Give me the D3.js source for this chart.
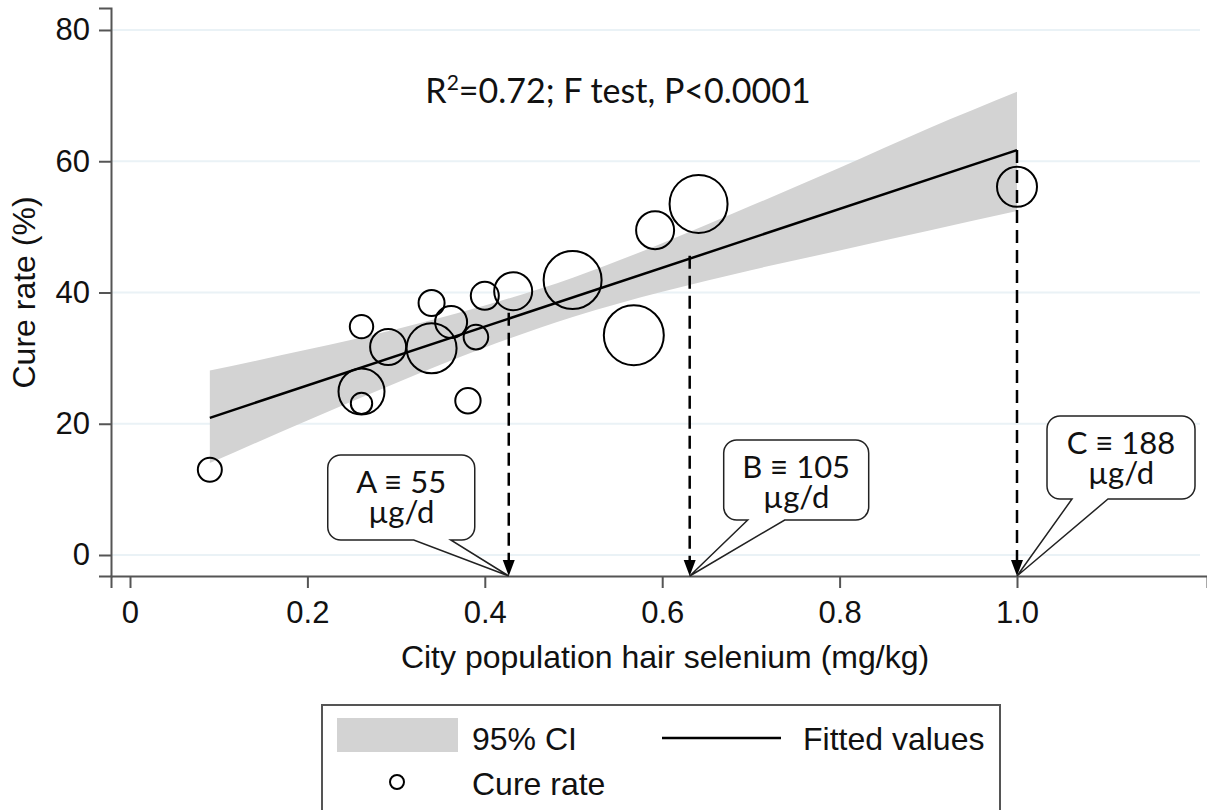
<!DOCTYPE html>
<html>
<head>
<meta charset="utf-8">
<script src="https://cdn.jsdelivr.net/npm/d3@7"></script>
<style>
  body { margin: 0; background: #fff; }
</style>
</head>
<body>
<div id="chart"></div>
<script>
// City data: hair selenium (mg/kg), cure rate (%), relative weight (bubble size)
const selenium = [0.09, 0.261, 0.261, 0.261, 0.291, 0.34, 0.34, 0.362, 0.39, 0.381, 0.40, 0.432, 0.499, 0.568, 0.592, 0.641, 1.0];
const cureRate = [13.0, 34.8, 24.9, 23.1, 31.7, 38.4, 31.5, 35.5, 33.2, 23.5, 39.5, 40.2, 41.9, 33.5, 49.5, 53.5, 56.1];
const cityWeight = [144, 137, 529, 114, 324, 169, 625, 256, 151, 161, 196, 361, 841, 900, 361, 841, 400];

// 95% CI band
const ciX = [0.09, 0.2, 0.3, 0.4, 0.5, 0.6, 0.7, 0.8, 0.9, 1.0];
const ciLow = [14.0, 20.5, 26.2, 31.6, 36.3, 40.1, 43.4, 46.4, 49.4, 52.4];
const ciHigh = [28.1, 31.3, 34.4, 38.0, 42.3, 47.5, 53.2, 59.0, 65.0, 70.6];

// fitted line
const fitX = [0.09, 1.0];
const fitY = [20.9, 61.7];

const xTicks = [0, 0.2, 0.4, 0.6, 0.8, 1.0];
const yTicks = [0, 20, 40, 60, 80];

// marked intakes
const markX = [0.427, 0.631, 1.0];
const markFit = [36.9, 45.6, 61.7];
const markLabel = ["A \u2261 55", "B \u2261 105", "C \u2261 188"];
const markUnit = "\u00b5g/d";

// callout box layout (pixels, relative to arrow tip)
const callout = [
  { dx: -181, top: 455, w: 147, h: 85, t1: -95, t2: -58 },
  { dx: 34, top: 440, w: 145, h: 80, t1: 58, t2: 95 },
  { dx: 30, top: 416, w: 148, h: 83, t1: 55, t2: 91 }
];

const width = 1207, height = 810;
const axisFont = "'Liberation Sans', Arial, sans-serif";
const noteFont = "Lato, 'Open Sans', sans-serif";

const x = d3.scaleLinear().domain([-0.02142, 1.2142]).range([111, 1207]);
const y = d3.scaleLinear().domain([-3.2, 83.35]).range([576, 8]);
const r = d3.scaleSqrt().domain([0, 900]).range([0, 30]);

const svg = d3.select("#chart")
  .append("svg")
  .attr("width", width)
  .attr("height", height);

// gridlines
svg.append("g")
  .selectAll("line")
  .data(yTicks)
  .enter()
  .append("line")
  .attr("x1", x.range()[0])
  .attr("x2", 1200)
  .attr("y1", d => y(d))
  .attr("y2", d => y(d))
  .attr("stroke", "#eaf2f6")
  .attr("stroke-width", 2);

// CI band
const ci = ciX.map((d, i) => ({ x: d, lo: ciLow[i], hi: ciHigh[i] }));
svg.append("path")
  .datum(ci)
  .attr("fill", "#d3d3d3")
  .attr("d", d3.area()
    .x(d => x(d.x))
    .y0(d => y(d.lo))
    .y1(d => y(d.hi))
    .curve(d3.curveMonotoneX));

// fitted line
svg.append("path")
  .datum(fitX.map((d, i) => [d, fitY[i]]))
  .attr("fill", "none")
  .attr("stroke", "#000")
  .attr("stroke-width", 2.5)
  .attr("d", d3.line().x(d => x(d[0])).y(d => y(d[1])));

// bubbles
svg.append("g")
  .selectAll("circle")
  .data(selenium)
  .enter()
  .append("circle")
  .attr("cx", d => x(d))
  .attr("cy", (d, i) => y(cureRate[i]))
  .attr("r", (d, i) => r(cityWeight[i]))
  .attr("fill", "none")
  .attr("stroke", "#000")
  .attr("stroke-width", 2);

// axes
const xAxis = svg.append("g")
  .attr("transform", "translate(0," + y.range()[0] + ")")
  .call(d3.axisBottom(x).tickValues(xTicks).tickSizeOuter(0).tickSize(12).tickPadding(13)
    .tickFormat(d => d === 0 ? "0" : d3.format(".1f")(d)));

const yAxis = svg.append("g")
  .attr("transform", "translate(" + x.range()[0] + ",0)")
  .call(d3.axisLeft(y).tickValues(yTicks).tickSizeOuter(0).tickSize(12).tickPadding(9));

[xAxis, yAxis].forEach(g => {
  g.select(".domain").attr("stroke", "#555").attr("stroke-width", 2);
  g.selectAll(".tick line").attr("stroke", "#555").attr("stroke-width", 2);
  g.selectAll("text").attr("fill", "#111").style("font-family", axisFont).style("font-size", "31px");
});

svg.append("text")
  .attr("x", 665)
  .attr("y", 668)
  .attr("text-anchor", "middle")
  .style("font-family", axisFont)
  .style("font-size", "32px")
  .attr("fill", "#111")
  .text("City population hair selenium (mg/kg)");

svg.append("text")
  .attr("transform", "translate(35," + y(40) + ") rotate(-90)")
  .attr("text-anchor", "middle")
  .style("font-family", axisFont)
  .style("font-size", "32px")
  .attr("fill", "#111")
  .text("Cure rate (%)");

// dashed drop lines with arrowheads
const axisY = y.range()[0];
const drops = svg.append("g");
markX.forEach((mx, i) => {
  const px = x(mx);
  drops.append("line")
    .attr("x1", px).attr("x2", px)
    .attr("y1", y(markFit[i]))
    .attr("y2", axisY - 14)
    .attr("stroke", "#000")
    .attr("stroke-width", 2.5)
    .attr("stroke-dasharray", "13,7");
  drops.append("path")
    .attr("d", `M${px - 6},${axisY - 16} L${px + 6},${axisY - 16} L${px},${axisY} Z`)
    .attr("fill", "#000");
});

// callouts
function bubblePath(tipX, tipY, c) {
  const x0 = tipX + c.dx, y0 = c.top, w = c.w, h = c.h, rr = 13;
  const a = tipX + Math.min(c.t1, c.t2), b = tipX + Math.max(c.t1, c.t2);
  return `M${x0 + rr},${y0} H${x0 + w - rr} A${rr},${rr} 0 0 1 ${x0 + w},${y0 + rr}` +
    ` V${y0 + h - rr} A${rr},${rr} 0 0 1 ${x0 + w - rr},${y0 + h}` +
    ` H${b} L${tipX},${tipY} L${a},${y0 + h}` +
    ` H${x0 + rr} A${rr},${rr} 0 0 1 ${x0},${y0 + h - rr}` +
    ` V${y0 + rr} A${rr},${rr} 0 0 1 ${x0 + rr},${y0} Z`;
}

markX.forEach((mx, i) => {
  const px = x(mx), c = callout[i];
  svg.append("path")
    .attr("d", bubblePath(px, axisY, c))
    .attr("fill", "#fff")
    .attr("stroke", "#222")
    .attr("stroke-width", 1.5);
  const cx = px + c.dx + c.w / 2;
  svg.append("text")
    .attr("x", cx).attr("y", c.top + 38)
    .attr("text-anchor", "middle")
    .style("font-family", noteFont)
    .style("font-size", "31px")
    .attr("fill", "#111")
    .text(markLabel[i]);
  svg.append("text")
    .attr("x", cx).attr("y", c.top + 68)
    .attr("text-anchor", "middle")
    .style("font-family", noteFont)
    .style("font-size", "31px")
    .attr("fill", "#111")
    .text(markUnit);
});

// R2 note
const note = svg.append("text")
  .attr("x", 618)
  .attr("y", 103)
  .attr("text-anchor", "middle")
  .style("font-family", noteFont)
  .style("font-size", "34px")
  .attr("fill", "#111");
note.append("tspan").text("R");
note.append("tspan").attr("dy", -13).style("font-size", "21px").text("2");
note.append("tspan").attr("dy", 13).text("=0.72; F test, P<0.0001");

// legend
const legend = svg.append("g");
legend.append("rect")
  .attr("x", 322).attr("y", 705)
  .attr("width", 678).attr("height", 130)
  .attr("fill", "#fff")
  .attr("stroke", "#555")
  .attr("stroke-width", 2);
legend.append("rect")
  .attr("x", 337).attr("y", 718)
  .attr("width", 121).attr("height", 34)
  .attr("fill", "#d3d3d3");
legend.append("line")
  .attr("x1", 662).attr("x2", 781)
  .attr("y1", 738).attr("y2", 738)
  .attr("stroke", "#000").attr("stroke-width", 2.5);
legend.append("circle")
  .attr("cx", 397).attr("cy", 782).attr("r", 7)
  .attr("fill", "none").attr("stroke", "#000").attr("stroke-width", 2);

const legendItems = [
  { label: "95% CI", x: 472, y: 750 },
  { label: "Fitted values", x: 803, y: 750 },
  { label: "Cure rate", x: 472, y: 795 }
];
legend.selectAll("text.lbl")
  .data(legendItems)
  .enter()
  .append("text")
  .attr("class", "lbl")
  .attr("x", d => d.x)
  .attr("y", d => d.y)
  .style("font-family", axisFont)
  .style("font-size", "32px")
  .attr("fill", "#111")
  .text(d => d.label);
</script>
</body>
</html>
